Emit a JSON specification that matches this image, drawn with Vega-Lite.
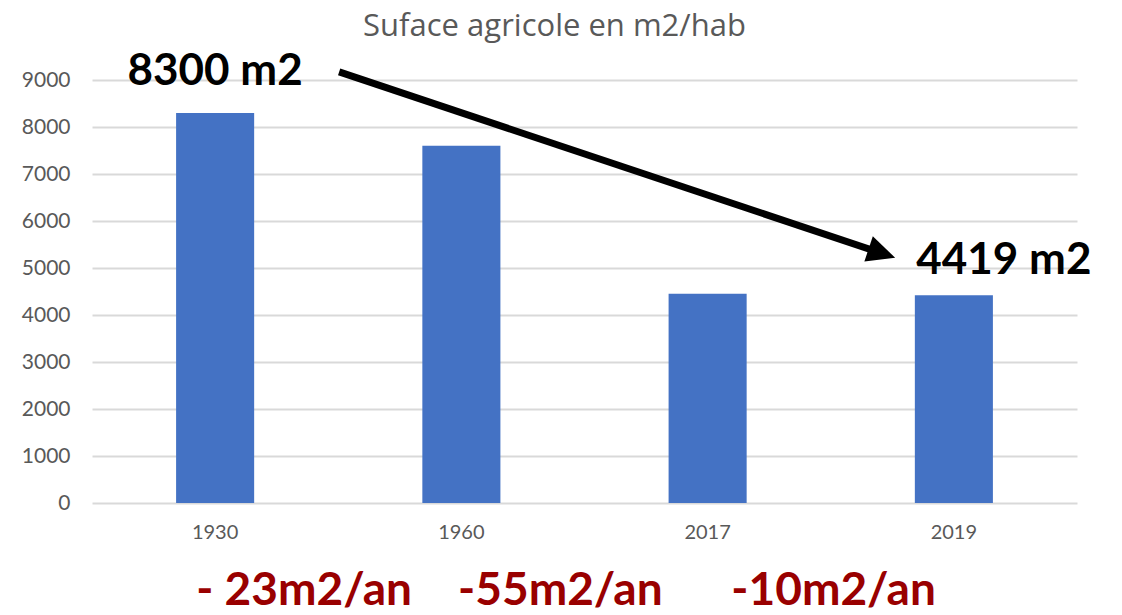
{
  "$schema": "https://vega.github.io/schema/vega-lite/v6.json",
  "width": 985,
  "height": 423,
  "autosize": "none",
  "padding": {"left": 92, "top": 80, "right": 45, "bottom": 112},
  "background": "white",
  "config": {"view": {"stroke": null}, "font": "Lato"},
  "title": {"text": "Suface agricole en m2/hab", "font": "Open Sans", "fontSize": 31, "fontWeight": "normal", "color": "#595959", "anchor": "middle", "dx": -30, "offset": 7},
  "layer": [
    {
      "data": {"values": [
        {"year": "1930", "value": 8300},
        {"year": "1960", "value": 7600},
        {"year": "2017", "value": 4450},
        {"year": "2019", "value": 4419}
      ]},
      "mark": {"type": "bar", "color": "#4472C4"},
      "encoding": {
        "x": {"field": "year", "type": "nominal", "scale": {"paddingInner": 0.683, "paddingOuter": 0.3415},
          "axis": {"title": null, "labelAngle": 0, "domain": false, "ticks": false, "labelFont": "Lato", "labelFontSize": 20, "labelColor": "#595959", "labelPadding": 19}},
        "y": {"field": "value", "type": "quantitative", "scale": {"domain": [0, 9000]},
          "axis": {"title": null, "format": "d", "values": [0, 1000, 2000, 3000, 4000, 5000, 6000, 7000, 8000, 9000], "domain": false, "ticks": false, "gridColor": "#d9d9d9", "gridWidth": 2, "labelFont": "Lato", "labelFontSize": 21, "labelColor": "#595959", "labelPadding": 22}}
      }
    },
    {
      "data": {"values": [{"from": "1930", "to": "2019", "v1": 8300, "v2": 4419}]},
      "mark": {"type": "rule", "strokeWidth": 7, "color": "black", "xOffset": 124, "yOffset": -41, "x2Offset": -72, "y2Offset": -42},
      "encoding": {
        "x": {"field": "from", "type": "nominal"},
        "x2": {"field": "to"},
        "y": {"field": "v1", "type": "quantitative"},
        "y2": {"field": "v2"}
      }
    },
    {
      "data": {"values": [{"year": "2019", "value": 4419}]},
      "mark": {"type": "point", "shape": "M1,0 L-1,-0.95 L-1,0.95 Z", "size": 784, "filled": true, "color": "black", "opacity": 1, "angle": 18.5, "xOffset": -72, "yOffset": -42},
      "encoding": {
        "x": {"field": "year", "type": "nominal"},
        "y": {"field": "value", "type": "quantitative"}
      }
    },
    {
      "data": {"values": [{"year": "1930", "value": 8300, "label": "8300 m2"}]},
      "mark": {"type": "text", "font": "Lato", "fontSize": 44, "fontWeight": "bold", "color": "black", "align": "center", "baseline": "middle", "dy": -41},
      "encoding": {
        "x": {"field": "year", "type": "nominal"},
        "y": {"field": "value", "type": "quantitative"},
        "text": {"field": "label"}
      }
    },
    {
      "data": {"values": [{"year": "2019", "value": 4419, "label": "4419 m2"}]},
      "mark": {"type": "text", "font": "Lato", "fontSize": 44, "fontWeight": "bold", "color": "black", "align": "center", "baseline": "middle", "dx": 50, "dy": -34},
      "encoding": {
        "x": {"field": "year", "type": "nominal"},
        "y": {"field": "value", "type": "quantitative"},
        "text": {"field": "label"}
      }
    },
    {
      "data": {"values": [{"year": "1930", "label": "- 23m2/an"}]},
      "mark": {"type": "text", "font": "Lato", "fontSize": 46, "fontWeight": "bold", "color": "#990000", "align": "center", "baseline": "middle", "dx": 89, "dy": 88},
      "encoding": {
        "x": {"field": "year", "type": "nominal"},
        "y": {"datum": 0, "type": "quantitative"},
        "text": {"field": "label"}
      }
    },
    {
      "data": {"values": [{"year": "1960", "label": "-55m2/an"}]},
      "mark": {"type": "text", "font": "Lato", "fontSize": 46, "fontWeight": "bold", "color": "#990000", "align": "center", "baseline": "middle", "dx": 99, "dy": 88},
      "encoding": {
        "x": {"field": "year", "type": "nominal"},
        "y": {"datum": 0, "type": "quantitative"},
        "text": {"field": "label"}
      }
    },
    {
      "data": {"values": [{"year": "2017", "label": "-10m2/an"}]},
      "mark": {"type": "text", "font": "Lato", "fontSize": 46, "fontWeight": "bold", "color": "#990000", "align": "center", "baseline": "middle", "dx": 126, "dy": 88},
      "encoding": {
        "x": {"field": "year", "type": "nominal"},
        "y": {"datum": 0, "type": "quantitative"},
        "text": {"field": "label"}
      }
    }
  ]
}
